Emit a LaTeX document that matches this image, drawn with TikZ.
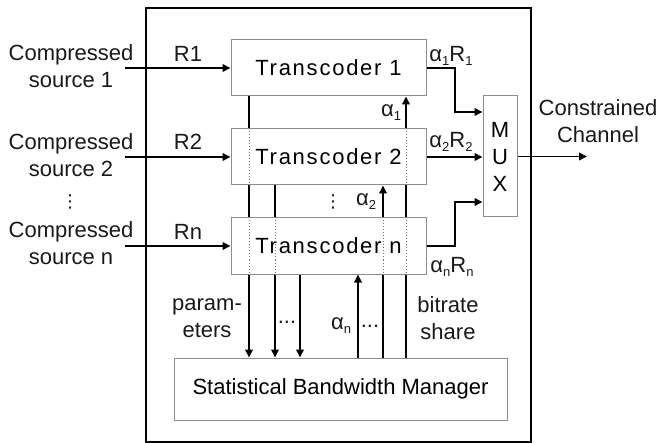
\documentclass[tikz,border=0pt]{standalone}
\usepackage{fontspec}
\setmainfont{Liberation Sans}
\newfontfamily\tcfont[LetterSpace=8]{Liberation Sans}
\newfontfamily\symfont{DejaVu Sans}
\usetikzlibrary{arrows.meta,backgrounds}
\newcommand{\lowidx}[1]{\raisebox{-0.35ex}{\fontsize{13}{13}\selectfont #1}}
\tikzset{
  box/.style={draw=black!45, line width=1pt, fill=white, inner sep=0pt},
  arr/.style={line width=1.9pt, -{Triangle[length=8pt,width=7.5pt]}},
  dotln/.style={draw=black!55, line width=1pt, dotted},
  lbl/.style={inner sep=0pt, text=black!90, font=\fontsize{22}{27}\selectfont, align=center},
  frame/.style={draw=black, line width=2.4pt, inner sep=0pt}
}
\begin{document}
\begin{tikzpicture}[x=1pt,y=-1pt]
\useasboundingbox (0,0) rectangle (660,443);
% frame
\node[frame, minimum width=385pt, minimum height=434pt] (frame) at (338.5,225) {};
% boxes
\node[box, minimum width=195pt, minimum height=56pt, font=\fontsize{22}{27}\tcfont] (t1) at (328.5,68) {Transcoder 1};
\node[box, minimum width=195pt, minimum height=56pt, font=\fontsize{22}{27}\tcfont] (t2) at (328.5,157) {Transcoder 2};
\node[box, minimum width=195pt, minimum height=56pt, font=\fontsize{22}{27}\tcfont] (tn) at (328.5,246) {Transcoder n};
\node[box, minimum width=34pt, minimum height=121pt, align=center, font=\fontsize{22}{27}\selectfont] (mux) at (500,156.5) {M\\U\\X};
\node[box, minimum width=333pt, minimum height=62pt, font=\fontsize{22}{27}\selectfont] (sbm) at (340.5,389) {Statistical Bandwidth Manager};
% coordinates
\coordinate (in1) at (125,68);
\coordinate (in2) at (125,157);
\coordinate (inn) at (125,246);
\coordinate (xa) at (249,0);
\coordinate (xb) at (275,0);
\coordinate (xc) at (300,0);
\coordinate (xd) at (358,0);
\coordinate (xe) at (383,0);
\coordinate (xf) at (406,0);
\coordinate (bend1) at (455,112);
\coordinate (bendn) at (455,202);
\coordinate (out) at (587,156.5);
% lines behind boxes
\begin{scope}[on background layer]
\draw[arr] (in1) -- (t1);
\draw[arr] (in2) -- (t2);
\draw[arr] (inn) -- (tn);
\draw[arr] (t1.south -| xa) -- (sbm.north -| xa);
\draw[arr] (t2.south -| xb) -- (sbm.north -| xb);
\draw[arr] (tn.south -| xc) -- (sbm.north -| xc);
\draw[arr] (sbm.north -| xd) -- (tn.south -| xd);
\draw[arr] (sbm.north -| xe) -- (t2.south -| xe);
\draw[arr] (sbm.north -| xf) -- (t1.south -| xf);
\draw[arr] (t1.east) -| (bend1) -- (bend1 -| mux.west);
\draw[arr] (t2.east) -- (t2.east -| mux.west);
\draw[arr] (tn.east) -| (bendn) -- (bendn -| mux.west);
\draw[arr] (mux.east) -- (out);
\end{scope}
% dotted pass-throughs
\draw[dotln] (t2.north -| xa) -- (t2.south -| xa);
\draw[dotln] (tn.north -| xa) -- (tn.south -| xa);
\draw[dotln] (tn.north -| xb) -- (tn.south -| xb);
\draw[dotln] (tn.north -| xe) -- (tn.south -| xe);
\draw[dotln] (t2.north -| xf) -- (t2.south -| xf);
\draw[dotln] (tn.north -| xf) -- (tn.south -| xf);
% labels
\node[lbl] (s1) at (71,66) {Compressed\\source 1};
\node[lbl] (s2) at (71,155) {Compressed\\source 2};
\node[lbl] (sn) at (71,243.5) {Compressed\\source n};
\node[lbl, font=\fontsize{18}{18}\symfont] (vd1) at (70,202) {⋮};
\node[lbl, font=\fontsize{18}{18}\symfont] (vd2) at (333,202) {⋮};
\node[lbl] (r1) at (188,54) {R1};
\node[lbl] (r2) at (188,142) {R2};
\node[lbl] (rn) at (188,232) {Rn};
\node[lbl] (o1) at (451,56) {α\lowidx{1}R\lowidx{1}};
\node[lbl] (o2) at (451,142) {α\lowidx{2}R\lowidx{2}};
\node[lbl] (on) at (452,267) {α\lowidx{n}R\lowidx{n}};
\node[lbl] (a1) at (391,113) {α\lowidx{1}};
\node[lbl] (a2) at (366,202) {α\lowidx{2}};
\node[lbl] (an) at (341,326) {α\lowidx{n}};
\node[lbl] (d1) at (287,322) {...};
\node[lbl] (d2) at (370,326) {...};
\node[lbl] (par) at (207,318) {param-\\eters};
\node[lbl] (bit) at (448,318) {bitrate\\share};
\node[lbl] (cc) at (598,121.5) {Constrained\\Channel};
\end{tikzpicture}
\end{document}
